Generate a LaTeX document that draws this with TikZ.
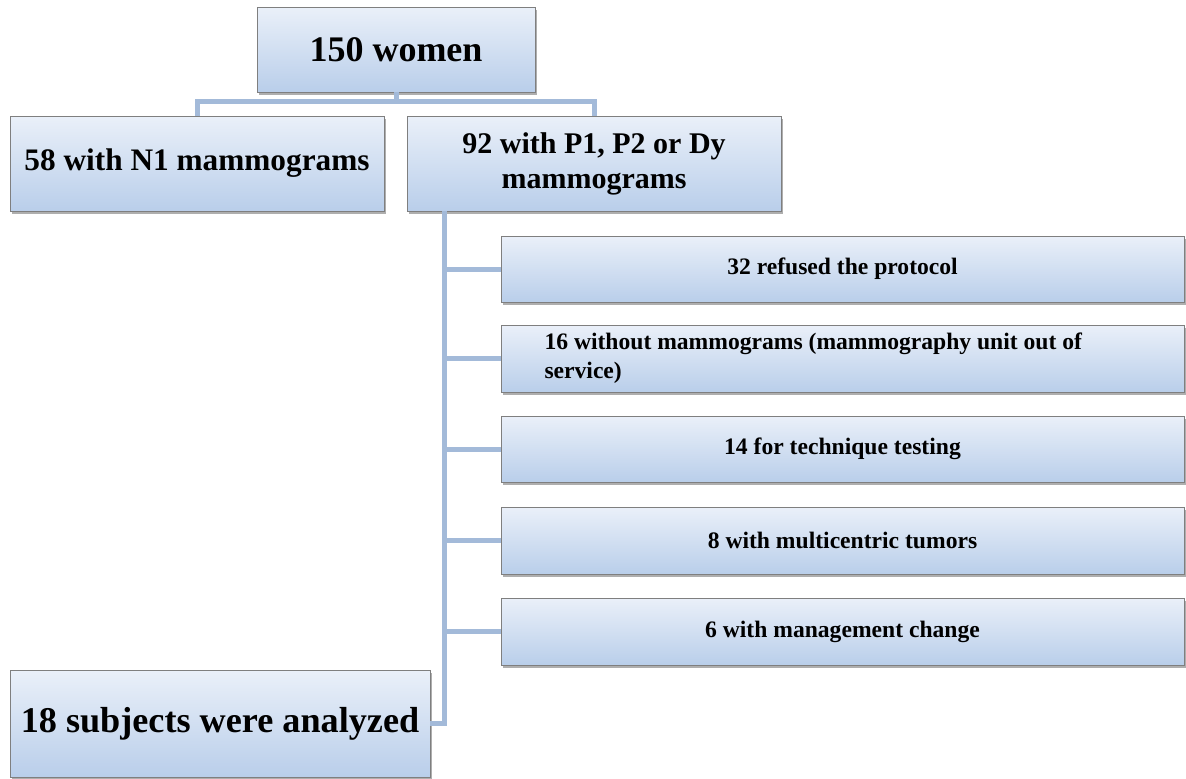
\documentclass[tikz,border=0pt]{standalone}
\usepackage{fontspec}
\setmainfont{Liberation Serif}
\usetikzlibrary{shadows,calc}
\definecolor{boxtop}{HTML}{EAF0F9}
\definecolor{boxbot}{HTML}{B9CEEA}
\definecolor{boxline}{HTML}{7F7F7F}
\definecolor{conn}{HTML}{A3BAD9}
\tikzset{
  box/.style={draw=boxline, line width=0.8pt, top color=boxtop, bottom color=boxbot,
    drop shadow={shadow xshift=2pt, shadow yshift=-3pt, opacity=0.45, fill=black!70},
    inner sep=2pt, font=\bfseries},
  small/.style={font=\bfseries\fontsize{23.6}{29}\selectfont},
  link/.style={draw=conn, line width=5pt},
}
\begin{document}
\begin{tikzpicture}[x=1pt,y=1pt]
\useasboundingbox (0,0) rectangle (1186,-779);
\node[box, minimum width=278pt, minimum height=85pt, font=\bfseries\fontsize{36}{40}\selectfont] (top) at (396,-49.5) {150 women};
\node[box, minimum width=374pt, minimum height=95pt, font=\bfseries\fontsize{31.3}{36}\selectfont] (n1) at (197,-163.5) {58 with N1 mammograms};
\node[box, minimum width=374pt, minimum height=95pt, align=center, font=\bfseries\fontsize{30}{35}\selectfont] (p) at (594,-163.5) {92 with P1, P2 or Dy\\mammograms};
\node[box, small, minimum width=683pt, minimum height=66pt] (r1) at (842.5,-269) {32 refused the protocol};
\node[box, small, minimum width=683pt, minimum height=67pt, align=left] (r2) at (842.5,-358.5) {\makebox[596pt][l]{16 without mammograms (mammography unit out of}\\service)};
\node[box, small, minimum width=683pt, minimum height=66pt] (r3) at (842.5,-449) {14 for technique testing};
\node[box, small, minimum width=683pt, minimum height=67pt] (r4) at (842.5,-540.5) {8 with multicentric tumors};
\node[box, small, minimum width=683pt, minimum height=67pt] (r5) at (842.5,-631.5) {6 with management change};
\node[box, minimum width=420pt, minimum height=107pt, font=\bfseries\fontsize{36.2}{40}\selectfont] (f) at (220,-723.5) {18 subjects were analyzed};
\coordinate (t) at ($(p.south west)+(38,0)$);
\draw[link] (top.south) -- ++(0,-9) -| (n1.north);
\draw[link] (top.south) -- ++(0,-9) -| (p.north);
\draw[link] (t) |- (f.east);
\draw[link] (r1.west) -- (r1.west -| t);
\draw[link] (r2.west) -- (r2.west -| t);
\draw[link] (r3.west) -- (r3.west -| t);
\draw[link] (r4.west) -- (r4.west -| t);
\draw[link] (r5.west) -- (r5.west -| t);
\end{tikzpicture}
\end{document}
